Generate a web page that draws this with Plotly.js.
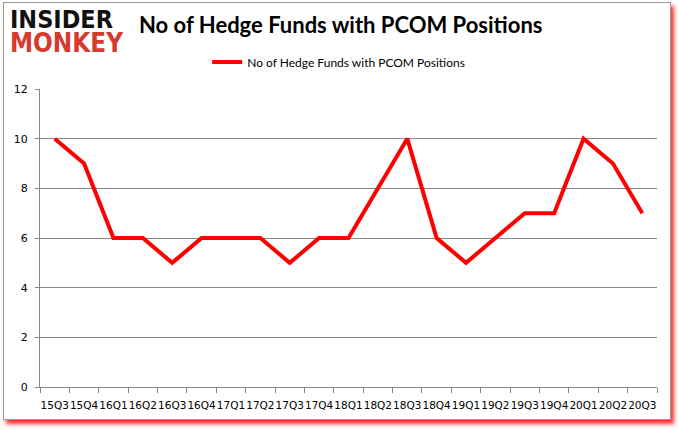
<!DOCTYPE html>
<html>
<head>
<meta charset="utf-8">
<script src="https://cdn.plot.ly/plotly-3.0.1.min.js"></script>
<style>
html,body{margin:0;padding:0;background:#fff;}
#wrap{position:absolute;left:0;top:0;width:678px;height:431px;overflow:hidden;background:#fff;}
#frame{position:absolute;left:3px;top:2px;width:666px;height:416px;border:1px solid #9a9a9a;box-shadow:3px 4px 4px #ff3030;background:#fff;}
#chart{position:absolute;left:0;top:0;width:678px;height:431px;}
.logo{position:absolute;left:10px;font-family:'DejaVu Sans',sans-serif;font-weight:bold;white-space:nowrap;transform-origin:0 0;line-height:20px;height:20px;}
</style>
</head>
<body>
<div id="wrap"><div id="frame"></div><div id="chart"></div>
<div class="logo" id="logo1" style="top:9.6px;color:#111;font-size:25px;">INSIDER</div>
<div class="logo" id="logo2" style="top:33.3px;color:#d63a2c;font-size:27px;">MONKEY</div>
</div>
<script>
const quarters = ["15Q3","15Q4","16Q1","16Q2","16Q3","16Q4","17Q1","17Q2","17Q3","17Q4","18Q1","18Q2","18Q3","18Q4","19Q1","19Q2","19Q3","19Q4","20Q1","20Q2","20Q3"];
const hedgeFunds = [10,9,6,6,5,6,6,6,5,6,6,8,10,6,5,6,7,7,10,9,7];
const seriesName = "No of Hedge Funds with PCOM Positions";
const chartTitle = "No of Hedge Funds with PCOM Positions";

function fitWidth(id, w) {
  const el = document.getElementById(id);
  el.style.display = "inline-block";
  const cur = el.getBoundingClientRect().width;
  el.style.transform = "scaleX(" + (w / cur) + ")";
}
fitWidth("logo1", 103);
fitWidth("logo2", 113);

const trace = {
  x: quarters, y: hedgeFunds, type: "scatter", mode: "lines", name: seriesName,
  line: {color: "#ff0000", width: 4}
};

const layout = {
  width: 678, height: 431,
  paper_bgcolor: "rgba(0,0,0,0)", plot_bgcolor: "rgba(0,0,0,0)",
  margin: {l: 40, r: 21, t: 89, b: 44},
  showlegend: true,
  legend: {orientation: "h", x: 0.271, xanchor: "left", xref: "paper", y: 1.091, yanchor: "middle",
    font: {family: "Lato, 'Open Sans', sans-serif", size: 12, color: "#000"}, itemwidth: 30},
  xaxis: {
    type: "category", range: [-0.5, quarters.length - 0.5], tickson: "boundaries", ticks: "outside", ticklen: 5, tickcolor: "#878787",
    showline: true, linecolor: "#878787", linewidth: 1, showgrid: false,
    tickfont: {family: "'DejaVu Sans', sans-serif", size: 10.5, color: "#000"},
    ticklabelstandoff: 8,
    tickangle: 0, automargin: false
  },
  yaxis: {
    range: [0, 12], dtick: 2, showgrid: true, gridcolor: "#878787", gridwidth: 1,
    showline: true, linecolor: "#878787", linewidth: 1, ticks: "outside", ticklen: 4, tickcolor: "#878787",
    zeroline: false, ticklabelstandoff: 5,
    tickfont: {family: "'DejaVu Sans', sans-serif", size: 11, color: "#000"}, automargin: false
  },
  annotations: [
    {text: "<b>" + chartTitle + "</b>", xref: "paper", yref: "paper",
     x: (137 - 40) / 617, xanchor: "left", y: 1.218, yanchor: "middle", showarrow: false,
     font: {family: "Lato, sans-serif", size: 22, color: "#000"}}
  ]
};

Plotly.newPlot("chart", [trace], layout, {displayModeBar: false, staticPlot: true});
</script>
</body>
</html>
